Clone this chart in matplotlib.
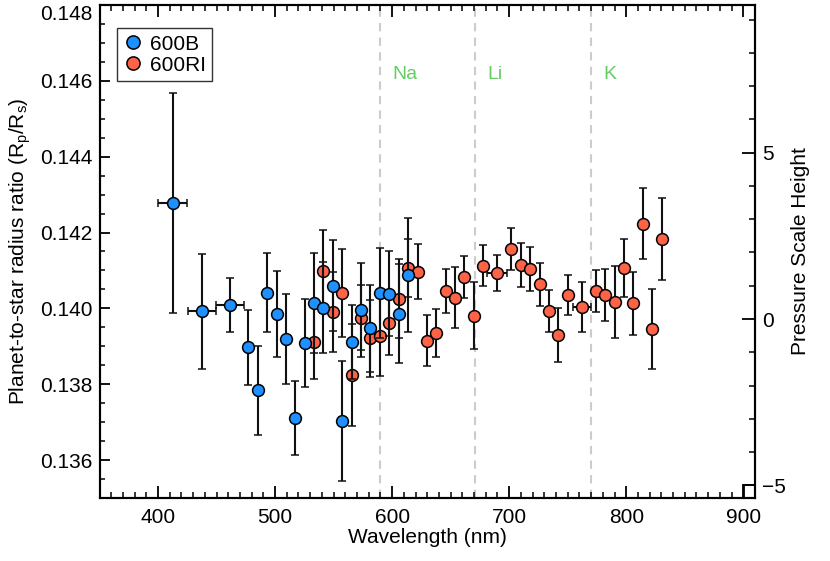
import matplotlib
matplotlib.use("Agg")
import matplotlib.pyplot as plt
from matplotlib.lines import Line2D
from matplotlib.ticker import MultipleLocator
import numpy as np

plt.rcParams['font.family'] = ['Liberation Sans', 'DejaVu Sans']
plt.rcParams['mathtext.fontset'] = 'custom'
plt.rcParams['mathtext.rm'] = 'Liberation Sans'
plt.rcParams['mathtext.it'] = 'Liberation Sans'

# ---- data: 600B grism ----
wl_b = [412.6, 437.3, 461.5, 477.2, 485.2, 493.4, 501.4, 509.1, 517.1, 525.4,
        533.3, 541.3, 549.3, 557.5, 565.5, 573.5, 581.5, 589.5, 597.4, 606.0, 613.9]
rr_b = [0.14277, 0.13992, 0.14008, 0.13898, 0.13784, 0.14041, 0.13986, 0.13920, 0.13711, 0.13909,
        0.14015, 0.14002, 0.14060, 0.13704, 0.13912, 0.13996, 0.13947, 0.14040, 0.14039, 0.13986, 0.14088]
err_b = [0.00290, 0.00152, 0.00071, 0.00099, 0.00117, 0.00104, 0.00113, 0.00119, 0.00097, 0.00115,
         0.00132, 0.00120, 0.00120, 0.00158, 0.00097, 0.00123, 0.00114, 0.00118, 0.00111, 0.00130, 0.00150]
xerr_b = [12.5, 12.0, 12.3, 0, 0, 0, 0, 0, 0, 0,
          0, 0, 0, 0, 0, 0, 0, 0, 0, 0, 0]

# ---- data: 600RI grism ----
wl_r = [533.3, 541.3, 549.3, 557.5, 565.5, 573.5, 581.5, 589.5, 597.4, 606.0,
        613.9, 622.0, 629.6, 637.9, 645.9, 653.8, 661.8, 669.8, 677.8, 689.7,
        701.9, 710.0, 718.0, 726.0, 734.2, 742.1, 750.1, 762.0, 774.1, 782.1,
        790.0, 798.0, 806.0, 814.2, 822.2, 830.2]
rr_r = [0.13912, 0.14098, 0.13991, 0.14041, 0.13825, 0.13975, 0.13921, 0.13927, 0.13962, 0.14026,
        0.14106, 0.14097, 0.13915, 0.13935, 0.14046, 0.14028, 0.14083, 0.13981, 0.14112, 0.14094,
        0.14156, 0.14114, 0.14105, 0.14063, 0.13993, 0.13930, 0.14035, 0.14003, 0.14046, 0.14035,
        0.14017, 0.14107, 0.14014, 0.14223, 0.13946, 0.14183]
err_r = [0.00098, 0.00109, 0.00106, 0.00116, 0.00134, 0.00086, 0.00101, 0.00104, 0.00086, 0.00103,
         0.00077, 0.00072, 0.00067, 0.00063, 0.00057, 0.00080, 0.00056, 0.00089, 0.00054, 0.00047,
         0.00056, 0.00058, 0.00058, 0.00056, 0.00055, 0.00072, 0.00053, 0.00066, 0.00055, 0.00069,
         0.00096, 0.00077, 0.00083, 0.00094, 0.00106, 0.00107]
xerr_r = [0] * 19 + [8.3] + [0] * 7 + [7.8] + [0] * 8

# ---- spectral features ----
line_names = ['Na', 'Li', 'K']
line_wl = [589.3, 670.8, 769.9]

# pressure scale height conversion
r_zero = 0.13972
r_per_H = 0.000877

xlim = (350, 910)
ylim = (0.135, 0.148)

FS = 15

fig = plt.figure(figsize=(8.3, 5.61), dpi=100)
ax = fig.add_axes([0.1199, 0.1123, 0.7897, 0.8788])

c_blue = '#1E90FF'
c_red = '#FF6347'

ax.errorbar(wl_r, rr_r, yerr=err_r, xerr=xerr_r, fmt='o', ms=8.5, mfc=c_red, mec='black',
            mew=1.1, ecolor='#111111', elinewidth=1.5, capsize=3.0, capthick=1.5, zorder=3)
ax.errorbar(wl_b, rr_b, yerr=err_b, xerr=xerr_b, fmt='o', ms=8.5, mfc=c_blue, mec='black',
            mew=1.1, ecolor='#111111', elinewidth=1.5, capsize=3.0, capthick=1.5, zorder=4)

for name, w in zip(line_names, line_wl):
    ax.axvline(w, color='#cccccc', lw=1.5, dashes=(4, 3), zorder=1)
    ax.text(w + 10.5, 0.14616, name, color='#66cc66', fontsize=FS - 1, va='center', ha='left')

ax.set_xlim(*xlim)
ax.set_ylim(*ylim)
ax.xaxis.set_major_locator(MultipleLocator(100))
ax.xaxis.set_minor_locator(MultipleLocator(10))
ax.yaxis.set_major_locator(MultipleLocator(0.002))
ax.yaxis.set_minor_locator(MultipleLocator(0.0005))
ax.yaxis.set_major_formatter(matplotlib.ticker.FormatStrFormatter('%.3f'))
ax.tick_params(axis='x', which='major', direction='in', length=8.5, width=1.3, top=True,
               labelsize=FS, pad=7)
ax.tick_params(axis='x', which='minor', direction='in', length=4.3, width=1.1, top=True)
ax.tick_params(axis='y', which='major', direction='in', length=7.2, width=1.3, right=False,
               labelsize=FS, pad=5)
ax.tick_params(axis='y', which='minor', direction='in', length=3.6, width=1.1, right=False)
for s in ax.spines.values():
    s.set_linewidth(1.5)

ax.set_xlabel('Wavelength (nm)', fontsize=FS, labelpad=1)
ax.set_ylabel('Planet-to-star radius ratio (R$_p$/R$_s$)', fontsize=FS, labelpad=5)

ax2 = ax.twinx()
ax2.set_position(ax.get_position())
ax2.set_ylim((ylim[0] - r_zero) / r_per_H, (ylim[1] - r_zero) / r_per_H)
ax2.yaxis.set_major_locator(MultipleLocator(5))
ax2.yaxis.set_minor_locator(MultipleLocator(1))
ax2.tick_params(axis='y', which='major', direction='in', length=9.4, width=1.3, labelsize=FS, pad=5)
ax2.tick_params(axis='y', which='minor', direction='in', length=4.3, width=1.1)
for s in ax2.spines.values():
    s.set_linewidth(1.5)
ax2.set_ylabel('Pressure Scale Height', fontsize=FS, labelpad=4)
# small box artefact at lower right
box_w = 11 / 655.0
y_bot = (ylim[0] - r_zero) / r_per_H
trans = matplotlib.transforms.blended_transform_factory(ax2.transAxes, ax2.transData)
ax2.plot([1 - box_w, 1 - box_w, 1], [y_bot, -5, -5], color='black', lw=1.3,
         transform=trans, clip_on=False)

handles = [Line2D([], [], marker='o', ls='none', ms=9.5, mfc=c_blue, mec='black', mew=1.1),
           Line2D([], [], marker='o', ls='none', ms=9.5, mfc=c_red, mec='black', mew=1.1)]
leg = ax.legend(handles, ['600B', '600RI'], loc='upper left', bbox_to_anchor=(0.0262, 0.9527),
                borderaxespad=0, fontsize=FS, frameon=True, fancybox=False, handletextpad=0.3,
                handlelength=1.0, borderpad=0.3, labelspacing=0.1)
leg.get_frame().set_edgecolor('black')
leg.get_frame().set_linewidth(1.0)
leg.set_zorder(10)

# top tick label sits just below the frame, as in the reference
fig.canvas.draw()
for tick in ax.yaxis.get_major_ticks():
    if abs(tick.get_loc() - ylim[1]) < 1e-9:
        tick.label1.set_verticalalignment('top')
        tick.label1.set_y(tick.get_loc())

fig.savefig('out.png', dpi=100)
